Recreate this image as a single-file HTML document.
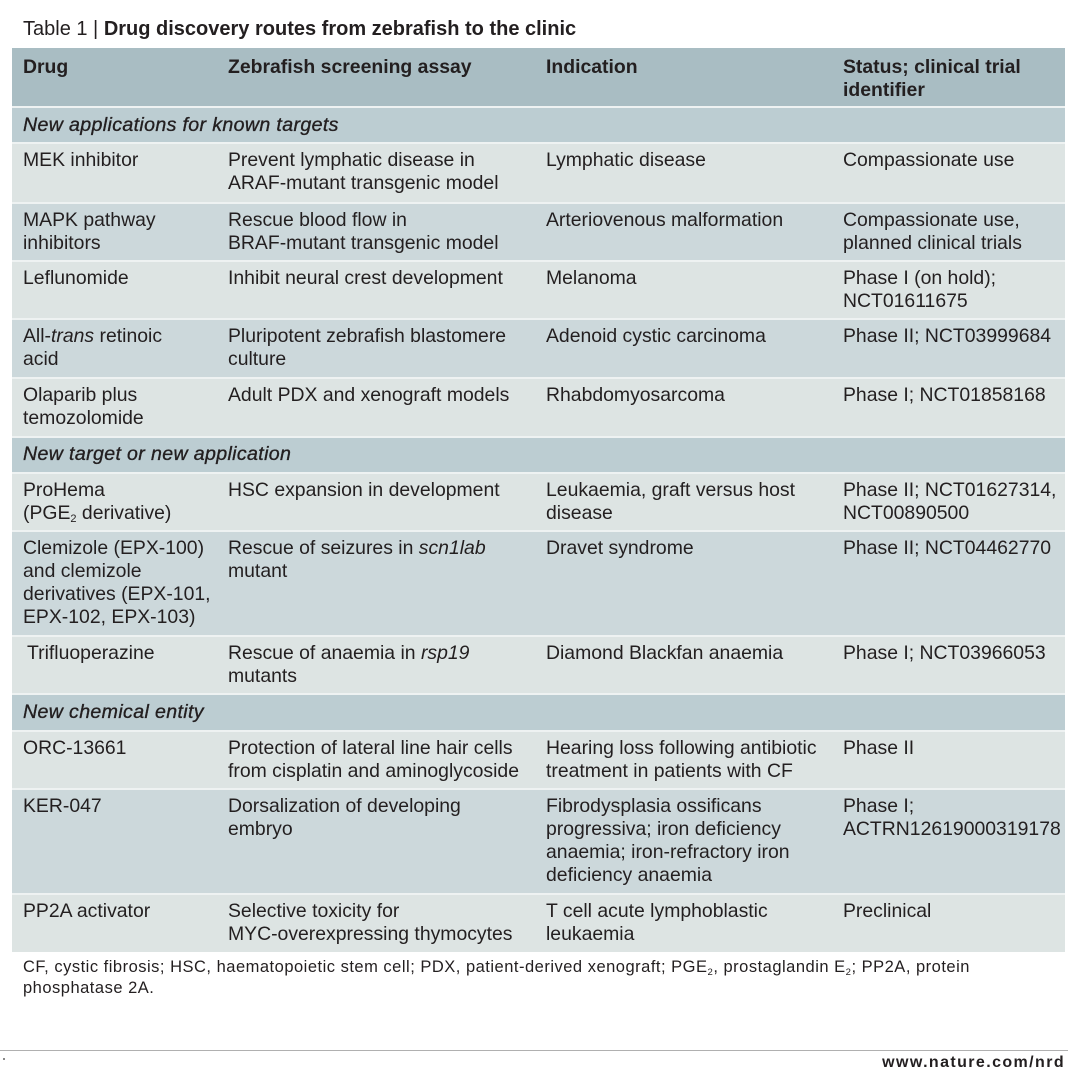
<!DOCTYPE html>
<html>
<head>
<meta charset="utf-8">
<style>
  html,body{margin:0;padding:0;background:#ffffff;}
  body{width:1080px;height:1087px;position:relative;overflow:hidden;font-family:"Liberation Sans",sans-serif;color:#231f20;}
  .title{position:absolute;left:23px;top:17px;font-size:20px;line-height:24px;white-space:nowrap;}
  .title b{font-weight:bold;}
  .tbl{position:absolute;left:12px;top:48px;width:1053px;height:904px;background:#eef2f2;}
  .row{position:absolute;left:12px;width:1053px;}
  .hdr{background:#a9bdc3;}
  .sec{background:#bccdd2;}
  .lt{background:#dde4e3;}
  .dk{background:#ccd8db;}
  .c{position:absolute;top:5px;font-size:19.4px;line-height:23px;white-space:nowrap;}
  .hdr .c{top:8px;font-weight:bold;}
  .sec .c{top:6px;font-style:italic;font-size:19.6px;letter-spacing:0.35px;-webkit-text-stroke:0.35px #231f20;}
  .c1{left:11px;}
  .c2{left:216px;}
  .c3{left:534px;}
  .c4{left:831px;}
  sub{font-size:11px;vertical-align:-3px;line-height:0;}
  .foot{position:absolute;left:23px;top:957px;font-size:16.5px;letter-spacing:0.5px;line-height:21px;white-space:nowrap;}
  .foot sub{font-size:9.5px;vertical-align:-3px;}
  .rule{position:absolute;left:0;top:1050px;width:1068px;height:1px;background:#b0b0b0;}
  .url{position:absolute;right:15px;top:1053px;font-size:16px;line-height:20px;font-weight:bold;letter-spacing:1.4px;}
  .dot{position:absolute;left:3px;top:1058px;width:2px;height:2px;background:#888;}
</style>
</head>
<body>
<div class="title">Table 1 | <b>Drug discovery routes from zebrafish to the clinic</b></div>

<div class="tbl"></div>

<div class="row hdr" style="top:48px;height:58px;">
  <div class="c c1">Drug</div>
  <div class="c c2">Zebrafish screening assay</div>
  <div class="c c3">Indication</div>
  <div class="c c4">Status; clinical trial<br>identifier</div>
</div>

<div class="row sec" style="top:108px;height:34px;">
  <div class="c c1">New applications for known targets</div>
</div>

<div class="row lt" style="top:144px;height:58px;">
  <div class="c c1">MEK inhibitor</div>
  <div class="c c2">Prevent lymphatic disease in<br>ARAF-mutant transgenic model</div>
  <div class="c c3">Lymphatic disease</div>
  <div class="c c4">Compassionate use</div>
</div>

<div class="row dk" style="top:204px;height:56px;">
  <div class="c c1">MAPK pathway<br>inhibitors</div>
  <div class="c c2">Rescue blood flow in<br>BRAF-mutant transgenic model</div>
  <div class="c c3">Arteriovenous malformation</div>
  <div class="c c4">Compassionate use,<br>planned clinical trials</div>
</div>

<div class="row lt" style="top:262px;height:56px;">
  <div class="c c1">Leflunomide</div>
  <div class="c c2">Inhibit neural crest development</div>
  <div class="c c3">Melanoma</div>
  <div class="c c4">Phase I (on hold);<br>NCT01611675</div>
</div>

<div class="row dk" style="top:320px;height:57px;">
  <div class="c c1">All-<i>trans</i> retinoic<br>acid</div>
  <div class="c c2">Pluripotent zebrafish blastomere<br>culture</div>
  <div class="c c3">Adenoid cystic carcinoma</div>
  <div class="c c4">Phase II; NCT03999684</div>
</div>

<div class="row lt" style="top:379px;height:57px;">
  <div class="c c1">Olaparib plus<br>temozolomide</div>
  <div class="c c2">Adult PDX and xenograft models</div>
  <div class="c c3">Rhabdomyosarcoma</div>
  <div class="c c4">Phase I; NCT01858168</div>
</div>

<div class="row sec" style="top:438px;height:34px;">
  <div class="c c1" style="top:5px;">New target or new application</div>
</div>

<div class="row lt" style="top:474px;height:56px;">
  <div class="c c1">ProHema<br>(PGE<sub>2</sub> derivative)</div>
  <div class="c c2">HSC expansion in development</div>
  <div class="c c3">Leukaemia, graft versus host<br>disease</div>
  <div class="c c4">Phase II; NCT01627314,<br>NCT00890500</div>
</div>

<div class="row dk" style="top:532px;height:103px;">
  <div class="c c1">Clemizole (EPX-100)<br>and clemizole<br>derivatives (EPX-101,<br>EPX-102, EPX-103)</div>
  <div class="c c2">Rescue of seizures in <i>scn1lab</i><br>mutant</div>
  <div class="c c3">Dravet syndrome</div>
  <div class="c c4">Phase II; NCT04462770</div>
</div>

<div class="row lt" style="top:637px;height:56px;">
  <div class="c c1" style="left:15px;">Trifluoperazine</div>
  <div class="c c2">Rescue of anaemia in <i>rsp19</i><br>mutants</div>
  <div class="c c3">Diamond Blackfan anaemia</div>
  <div class="c c4">Phase I; NCT03966053</div>
</div>

<div class="row sec" style="top:695px;height:35px;">
  <div class="c c1">New chemical entity</div>
</div>

<div class="row lt" style="top:732px;height:56px;">
  <div class="c c1">ORC-13661</div>
  <div class="c c2">Protection of lateral line hair cells<br>from cisplatin and aminoglycoside</div>
  <div class="c c3">Hearing loss following antibiotic<br>treatment in patients with CF</div>
  <div class="c c4">Phase II</div>
</div>

<div class="row dk" style="top:790px;height:103px;">
  <div class="c c1">KER-047</div>
  <div class="c c2">Dorsalization of developing<br>embryo</div>
  <div class="c c3">Fibrodysplasia ossificans<br>progressiva; iron deficiency<br>anaemia; iron-refractory iron<br>deficiency anaemia</div>
  <div class="c c4">Phase I;<br>ACTRN12619000319178</div>
</div>

<div class="row lt" style="top:895px;height:57px;">
  <div class="c c1">PP2A activator</div>
  <div class="c c2">Selective toxicity for<br>MYC-overexpressing thymocytes</div>
  <div class="c c3">T cell acute lymphoblastic<br>leukaemia</div>
  <div class="c c4">Preclinical</div>
</div>

<div class="foot">CF, cystic fibrosis; HSC, haematopoietic stem cell; PDX, patient-derived xenograft; PGE<sub>2</sub>, prostaglandin E<sub>2</sub>; PP2A, protein<br>phosphatase 2A.</div>

<div class="rule"></div>
<div class="dot"></div>
<div class="url">www.nature.com/nrd</div>
</body>
</html>
